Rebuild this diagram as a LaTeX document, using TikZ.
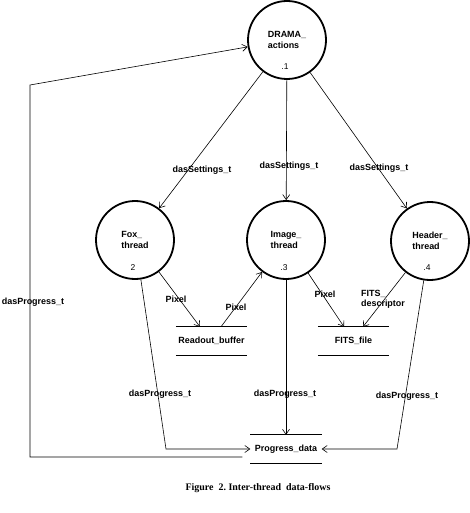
\documentclass[tikz,border=0pt]{standalone}
\usepackage{fontspec}
\setmainfont{Liberation Sans}
\newfontfamily\capfont{Liberation Serif}
\usetikzlibrary{positioning, arrows.meta}

\tikzset{
  proc/.style={circle, draw, line width=1.8bp, minimum size=78bp, inner sep=0pt, align=left, font=\fontsize{9}{10.5}\selectfont\bfseries},
  num/.style={inner sep=0pt, font=\fontsize{8.5}{9}\selectfont},
  store/.style={minimum width=71bp, minimum height=28bp, inner sep=0pt, font=\fontsize{9}{10}\selectfont\bfseries},
  flow/.style={line width=0.6bp, -{Straight Barb[length=5bp,width=7bp]}},
  lbl/.style={inner sep=0pt, font=\fontsize{9}{10}\selectfont\bfseries, align=left},
}

\begin{document}
\begin{tikzpicture}[x=1bp, y=-1bp]
\useasboundingbox (0,0) rectangle (470,513);

% processes
\node[proc] (drama) at (287,40) {DRAMA\_\\actions};
\node[proc] (fox) at (135,240) {Fox\_\\thread};
\node[proc] (image) at (286,240) {Image\_\\thread};
\node[proc] (header) at (430,241) {Header\_\\thread};
\node[num] (n1) at (285,67) {.1};
\node[num] (n2) at (133,268) {2};
\node[num] (n3) at (284,268) {.3};
\node[num] (n4) at (427,268) {.4};

% stores
\node[store] (rbuf) at (211.5,341) {Readout\_buffer};
\node[store] (ffile) at (353.5,341) {FITS\_file};
\node[store] (pdata) at (286,449) {Progress\_data};
\foreach \s in {rbuf, ffile, pdata}
  \draw[line width=0.9bp] (\s.north west) -- (\s.north east) (\s.south west) -- (\s.south east);

% bends
\coordinate (fb) at (166,449);
\coordinate (hb) at (397,449);
\coordinate (lb) at (30,457);
\coordinate (lt) at (30,85);

% flows
\draw[flow] (drama) -- (fox);
\draw[flow] (drama) -- (image);
\draw[flow] (drama) -- (header);
\draw[flow] (fox) -- ([xshift=-11.5bp]rbuf.north);
\draw[flow] ([xshift=9.5bp]rbuf.north) -- (image);
\draw[flow] (image) -- ([xshift=-9.5bp]ffile.north);
\draw[flow] (header) -- ([xshift=9.5bp]ffile.north);
\draw[flow] (fox) -- (fb) -- (pdata.west);
\draw[flow] (image) -- (pdata.north);
\draw[flow] (header) -- (hb) -- (pdata.east);
\draw[flow] ([xshift=-8bp, yshift=-8bp]pdata.west) -- (lb) -- (lt) -- (drama);

% labels
\node[lbl] (s1) at (202,170) {dasSettings\_t};
\node[lbl] (s2) at (289,166) {dasSettings\_t};
\node[lbl] (s3) at (379,168) {dasSettings\_t};
\node[lbl] (p1) at (176,299) {Pixel};
\node[lbl] (p2) at (236,307) {Pixel};
\node[lbl] (p3) at (325,294) {Pixel};
\node[lbl] (fd) at (383,299) {FITS\_\\descriptor};
\node[lbl] (g1) at (160,394) {dasProgress\_t};
\node[lbl] (g2) at (285,394) {dasProgress\_t};
\node[lbl] (g3) at (407,396) {dasProgress\_t};
\node[lbl] (g4) at (33,302) {dasProgress\_t};

\node[font=\capfont\bfseries\fontsize{10}{12}\selectfont] (cap) at (258,488) {Figure\ \ 2.\ Inter-thread\ \ data-flows};
\end{tikzpicture}
\end{document}
